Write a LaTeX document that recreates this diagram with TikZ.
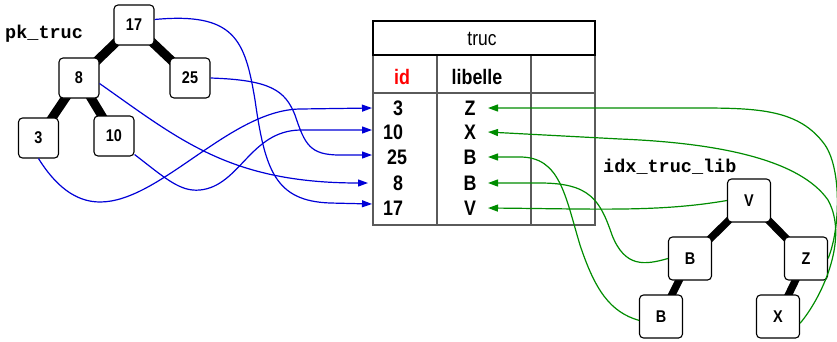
\documentclass[tikz,border=0pt]{standalone}
\usepackage{fontspec}
\setmainfont{Liberation Sans}[FakeStretch=0.85]
\newfontfamily\monob{Liberation Mono}
\usetikzlibrary{arrows.meta,backgrounds}
\definecolor{bluec}{RGB}{0,0,215}
\definecolor{greenc}{RGB}{0,140,0}
\definecolor{tgray}{RGB}{90,90,90}
\begin{document}
\begin{tikzpicture}[x=1pt,y=-1pt,
  lbox/.style={draw, rounded corners=4pt, fill=white, minimum width=40pt, minimum height=40pt, line width=1.1pt, inner sep=0pt, font=\bfseries\fontsize{17}{19}\selectfont},
  rbox/.style={lbox, minimum width=43pt, minimum height=43pt},
  ltreeedge/.style={line width=9pt, black},
  rtreeedge/.style={line width=7.5pt, black},
  bline/.style={bluec, line width=1.2pt, -{Triangle[length=10pt,width=7pt]}},
  gline/.style={greenc, line width=1.2pt, -{Triangle[length=10pt,width=7pt]}},
  celltext/.style={font=\bfseries\fontsize{21}{23}\selectfont, inner sep=0pt},
  lbl/.style={font=\monob\bfseries\fontsize{18.5}{20}\selectfont, inner sep=0pt, anchor=base west}
]
\useasboundingbox (0,0) rectangle (837,341);

% labels
\node[lbl] (pk) at (5,38) {pk\_truc};
\node[lbl] (idx) at (603,172) {idx\_truc\_lib};

% left tree
\node[lbox] (n17) at (134,25) {17};
\node[lbox] (n8) at (79,78) {8};
\node[lbox] (n25) at (190,78) {25};
\node[lbox] (n3) at (38.5,138) {3};
\node[lbox] (n10) at (114,136) {10};

% right tree
\node[rbox] (Vn) at (749,200.5) {V};
\node[rbox] (Bm) at (690,258.5) {B};
\node[rbox] (Zn) at (806,258.5) {Z};
\node[rbox] (Bb) at (661,316.5) {B};
\node[rbox] (Xn) at (778,316.5) {X};

\begin{scope}[on background layer]
  \draw[ltreeedge] (n17.center) -- (n8.center);
  \draw[ltreeedge] (n17.center) -- (n25.center);
  \draw[ltreeedge] (n8.center) -- (n3.center);
  \draw[ltreeedge] (n8.center) -- (n10.center);
  \draw[rtreeedge] (Vn.center) -- (Bm.center);
  \draw[rtreeedge] (Vn.center) -- (Zn.center);
  \draw[rtreeedge] (Bm.center) -- (Bb.center);
  \draw[rtreeedge] (Zn.center) -- (Xn.center);
\end{scope}

% table
\draw[tgray, line width=1.4pt] (373,55) -- (373,225) -- (595,225) -- (595,55);
\draw[tgray, line width=1.2pt] (373,93) -- (595,93);
\draw[tgray, line width=1.2pt] (437,55) -- (437,225);
\draw[tgray, line width=1.2pt] (531,55) -- (531,225);
\draw[black, line width=1.4pt] (373,21) rectangle (595,55);

\node[font=\fontsize{20.5}{22}\selectfont, inner sep=0pt] (title) at (482,39) {truc};
\node[celltext, red] (hid) at (402,77) {id};
\node[celltext] (hlib) at (477,77) {libelle};

\node[celltext] (i3) at (398,108) {3};
\node[celltext] (i10) at (393,132.5) {10};
\node[celltext] (i25) at (397,157.5) {25};
\node[celltext] (i8) at (398,183) {8};
\node[celltext] (i17) at (393,208) {17};

\node[celltext] (lZ) at (470,108) {Z};
\node[celltext] (lX) at (470,132.5) {X};
\node[celltext] (lB1) at (470,157.5) {B};
\node[celltext] (lB2) at (470,183) {B};
\node[celltext] (lV) at (470,208) {V};

% arrow targets
\coordinate (b3) at (372,108);
\coordinate (b10) at (372,130);
\coordinate (b25) at (372,155);
\coordinate (b8) at (368,183);
\coordinate (b17) at (372,204);

\coordinate (gZ) at (488,108);
\coordinate (gX) at (488,132);
\coordinate (gB1) at (488,157);
\coordinate (gB2) at (488,183);
\coordinate (gV) at (488,208);

% blue connectors
\draw[bline] (n17.15) .. controls (235,12) and (245,40) .. (255,100)
   .. controls (265,170) and (275,201) .. (330,203) -- (b17);
\draw[bline] (n25.east) .. controls (270,80) and (285,90) .. (295,115)
   .. controls (305,145) and (310,155) .. (340,155) -- (b25);
\draw[bline] (n8.-15) .. controls (180,140) and (230,183) .. (b8);
\draw[bline] (n10.-42) .. controls (165,178) and (180,192) .. (200,190)
   .. controls (240,186) and (250,131) .. (300,130) -- (b10);
\draw[bline] (n3.south) .. controls (55,185) and (75,202) .. (100,202)
   .. controls (160,202) and (230,110) .. (300,109) -- (b3);

% green connectors
\draw[gline] (Vn.west) .. controls (660,212) and (600,209) .. (gV);
\draw[gline] (Bm.west) .. controls (645,265) and (625,268) .. (612,235)
   .. controls (600,200) and (590,183) .. (540,183) -- (gB2);
\draw[gline] (Bb.-170) .. controls (610,312) and (595,290) .. (580,245)
   .. controls (565,195) and (560,157) .. (520,157) -- (gB1);
\draw[gline] (Xn.-17) .. controls (820,300) and (850,240) .. (828,200)
   .. controls (800,160) and (720,143) .. (620,139) -- (gX);
\draw[gline] (Zn.east) .. controls (840,230) and (842,170) .. (825,145)
   .. controls (800,110) and (760,108) .. (700,108) -- (gZ);
\end{tikzpicture}
\end{document}
